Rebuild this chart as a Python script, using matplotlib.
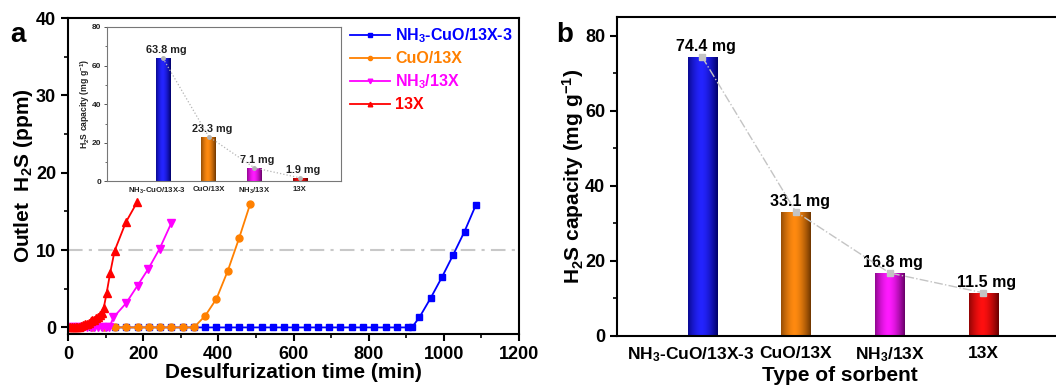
import numpy as np
import matplotlib
matplotlib.use('Agg')
import matplotlib.pyplot as plt
from matplotlib.ticker import MultipleLocator
from matplotlib.colors import to_rgb
from matplotlib.transforms import ScaledTranslation

plt.rcParams['font.family'] = 'Liberation Sans'
plt.rcParams['font.weight'] = 'bold'
plt.rcParams['axes.labelweight'] = 'bold'
plt.rcParams['mathtext.fontset'] = 'custom'
plt.rcParams['mathtext.rm'] = 'Liberation Sans:bold'
plt.rcParams['mathtext.it'] = 'Liberation Sans:bold'
plt.rcParams['mathtext.bf'] = 'Liberation Sans:bold'
plt.rcParams['axes.linewidth'] = 1.5

# breakthrough curves, panel a (time in min, outlet H2S in ppm)
blue_t = [5, 35, 65, 95, 125, 155, 185, 215, 245, 275, 305, 335, 365, 395, 425, 455,
          485, 515, 545, 575, 605, 635, 665, 695, 725, 755, 785, 815, 845, 875, 905,
          915, 935, 965, 995, 1025, 1055, 1085]
blue_v = [0, 0, 0, 0, 0, 0, 0, 0, 0, 0, 0, 0, 0, 0, 0, 0,
          0, 0, 0, 0, 0, 0, 0, 0, 0, 0, 0, 0, 0, 0, 0,
          0, 1.3, 3.8, 6.5, 9.4, 12.4, 15.8]
orange_t = [5, 35, 65, 95, 125, 155, 185, 215, 245, 275, 305, 335, 365, 395, 425, 455, 485]
orange_v = [0, 0, 0, 0, 0, 0, 0, 0, 0, 0, 0, 0, 1.5, 3.7, 7.3, 11.5, 16.0]
magenta_t = [0, 10, 20, 30, 40, 50, 60, 70, 80, 90, 100, 110, 121, 154, 185, 214, 244, 275]
magenta_v = [0, 0, 0, 0, 0, 0, 0, 0, 0, 0, 0, 0, 1.3, 3.1, 5.4, 7.6, 10.2, 13.5]
red_t = [0, 5, 10, 15, 20, 25, 30, 35, 40, 45, 50, 55, 60, 65, 70, 75, 80, 85, 90, 95,
         103, 112, 124, 154, 184]
red_v = [0, 0, 0, 0, 0, 0, 0.1, 0.2, 0.3, 0.4, 0.5, 0.6, 0.8, 0.9, 1.0, 1.2, 1.4, 1.6,
         1.9, 2.5, 4.5, 7.0, 9.9, 13.6, 16.2]

series_names = [r'NH$_3$-CuO/13X-3', 'CuO/13X', r'NH$_3$/13X', '13X']
line_colors = ['#0000ff', '#ff8000', '#ff00ff', '#ff0000']

# sorption capacity (mg/g)
sorbents = [r'NH$_3$-CuO/13X-3', 'CuO/13X', r'NH$_3$/13X', '13X']
cap_inset = [63.8, 23.3, 7.1, 1.9]
cap_main = [74.4, 33.1, 16.8, 11.5]
bar_light = ['#2424ff', '#ff8a10', '#ff1aff', '#ff1010']
bar_dark = ['#000068', '#6e3600', '#660066', '#680000']


def shade_bars(ax, bars, light, dark):
    # fake the cylinder-like shading of the original bars
    u = np.linspace(0, 1, 80)
    w = np.clip(np.abs(u - 0.45) / 0.55, 0, 1) ** 1.6
    for b, lc, dc in zip(bars, light, dark):
        lc = np.array(to_rgb(lc)); dc = np.array(to_rgb(dc))
        img = (lc[None, :] * (1 - w[:, None]) + dc[None, :] * w[:, None])[None, :, :]
        x0 = b.get_x(); x1 = x0 + b.get_width(); h = b.get_height()
        im = ax.imshow(img, extent=(x0, x1, 0, h), aspect='auto', interpolation='bilinear',
                       zorder=b.get_zorder() + 0.1)
        im.set_clip_path(b)


def nudge_label(ax, idx, dx_pt):
    lab = ax.get_xticklabels()[idx]
    lab.set_transform(lab.get_transform() + ScaledTranslation(dx_pt/72, 0, fig.dpi_scale_trans))


fig = plt.figure(figsize=(10.56, 3.87), dpi=100)

# ---------------- panel a ----------------
ax = fig.add_axes([68/1056, 1-334/387, (519-68)/1056, (334-18)/387])
ax.axhline(10, color='#c8c8c8', lw=1.5, dashes=(7, 3, 1.5, 3), zorder=1)
ax.plot(blue_t, blue_v, '-s', color=line_colors[0], ms=4.5, lw=1.3, label=series_names[0])
ax.plot(orange_t, orange_v, '-o', color=line_colors[1], ms=5, lw=1.3, label=series_names[1])
ax.plot(magenta_t, magenta_v, '-v', color=line_colors[2], ms=5.5, lw=1.3, label=series_names[2])
ax.plot(red_t, red_v, '-^', color=line_colors[3], ms=5.5, lw=1.3, label=series_names[3])
ax.set_xlim(0, 1200)
ax.set_ylim(-0.85, 40)
ax.xaxis.set_major_locator(MultipleLocator(200))
ax.xaxis.set_minor_locator(MultipleLocator(100))
ax.yaxis.set_major_locator(MultipleLocator(10))
ax.yaxis.set_minor_locator(MultipleLocator(5))
ax.tick_params(which='major', direction='out', length=5, width=1.5, labelsize=13)
ax.tick_params(which='minor', direction='out', length=3, width=1.2)
ax.set_xlabel('Desulfurization time (min)', fontsize=15, labelpad=0)
ax.set_ylabel(r'Outlet  H$_2$S (ppm)', fontsize=15, labelpad=1)
leg = ax.legend(loc='upper left', bbox_to_anchor=(0.612, 0.993), frameon=False, fontsize=11.5,
                handlelength=2.5, handletextpad=0.3, labelspacing=0.38, markerscale=0.6,
                borderaxespad=0, labelcolor='linecolor')
fig.text(18/1056, 1-35/387, 'a', fontsize=20, fontweight='bold', ha='center', va='center')

# inset
ins = fig.add_axes([107/1056, 1-181.5/387, (341-107)/1056, (181.5-27)/387])
xi = np.arange(1, len(sorbents) + 1)
bars_i = ins.bar(xi, cap_inset, width=0.32, color='none', zorder=2)
shade_bars(ins, bars_i, bar_light, bar_dark)
ins.plot(xi, cap_inset, ':', color='#b4b4b4', lw=0.9, marker='o', ms=2.5, zorder=4)
for x, v in zip(xi, cap_inset):
    ins.text(x + 0.07, v + 1.5, f'{v} mg', ha='center', va='bottom', fontsize=7.8, color='#222222')
ins.set_xlim(-0.226, 4.9)
ins.set_ylim(0, 80)
ins.set_xticks(xi)
ins.set_xticklabels(sorbents)
ins.yaxis.set_major_locator(MultipleLocator(20))
ins.yaxis.set_minor_locator(MultipleLocator(10))
ins.tick_params(axis='x', length=0, labelsize=5.6, pad=3, labelcolor='#222222')
ins.tick_params(axis='y', which='major', length=2.5, width=0.7, labelsize=6, pad=1.5,
                color='#555555', labelcolor='#222222')
ins.tick_params(axis='y', which='minor', length=1.5, width=0.6, color='#555555')
for s in ins.spines.values():
    s.set_linewidth(0.8)
    s.set_color('#777777')
ins.set_ylabel(r'H$_2$S capacity (mg g$^{-1}$)', fontsize=6.2, labelpad=0, color='#222222')
nudge_label(ins, 0, -4)

# ---------------- panel b ----------------
bx = fig.add_axes([617/1056, 1-336/387, (1063-617)/1056, (336-17)/387])
xb = np.arange(1, len(sorbents) + 1)
bars_b = bx.bar(xb, cap_main, width=0.31, color='none', zorder=2)
shade_bars(bx, bars_b, bar_light, bar_dark)
bx.plot(xb, cap_main, '-.', color='#c4c4c4', lw=1.0, marker='s', ms=4.5, zorder=4)
for x, v in zip(xb, cap_main):
    bx.text(x + 0.04, v + 0.8, f'{v} mg', ha='center', va='bottom', fontsize=11.5)
bx.set_xlim(0.093, 4.85)
bx.set_ylim(0, 85)
bx.set_xticks(xb)
bx.set_xticklabels(sorbents)
bx.yaxis.set_major_locator(MultipleLocator(20))
bx.yaxis.set_minor_locator(MultipleLocator(10))
bx.tick_params(axis='x', length=0, labelsize=12.5, pad=7)
bx.tick_params(axis='y', which='major', direction='out', length=5, width=1.5, labelsize=13)
bx.tick_params(axis='y', which='minor', direction='out', length=3, width=1.2)
bx.set_xlabel('Type of sorbent', fontsize=15, labelpad=1)
bx.set_ylabel(r'H$_2$S capacity (mg g$^{-1}$)', fontsize=15, labelpad=-1)
# first long category label sits a bit left of its bar in the original
nudge_label(bx, 0, -8)
fig.text(565/1056, 1-35/387, 'b', fontsize=20, fontweight='bold', ha='center', va='center')

fig.savefig('out.png', dpi=100)
